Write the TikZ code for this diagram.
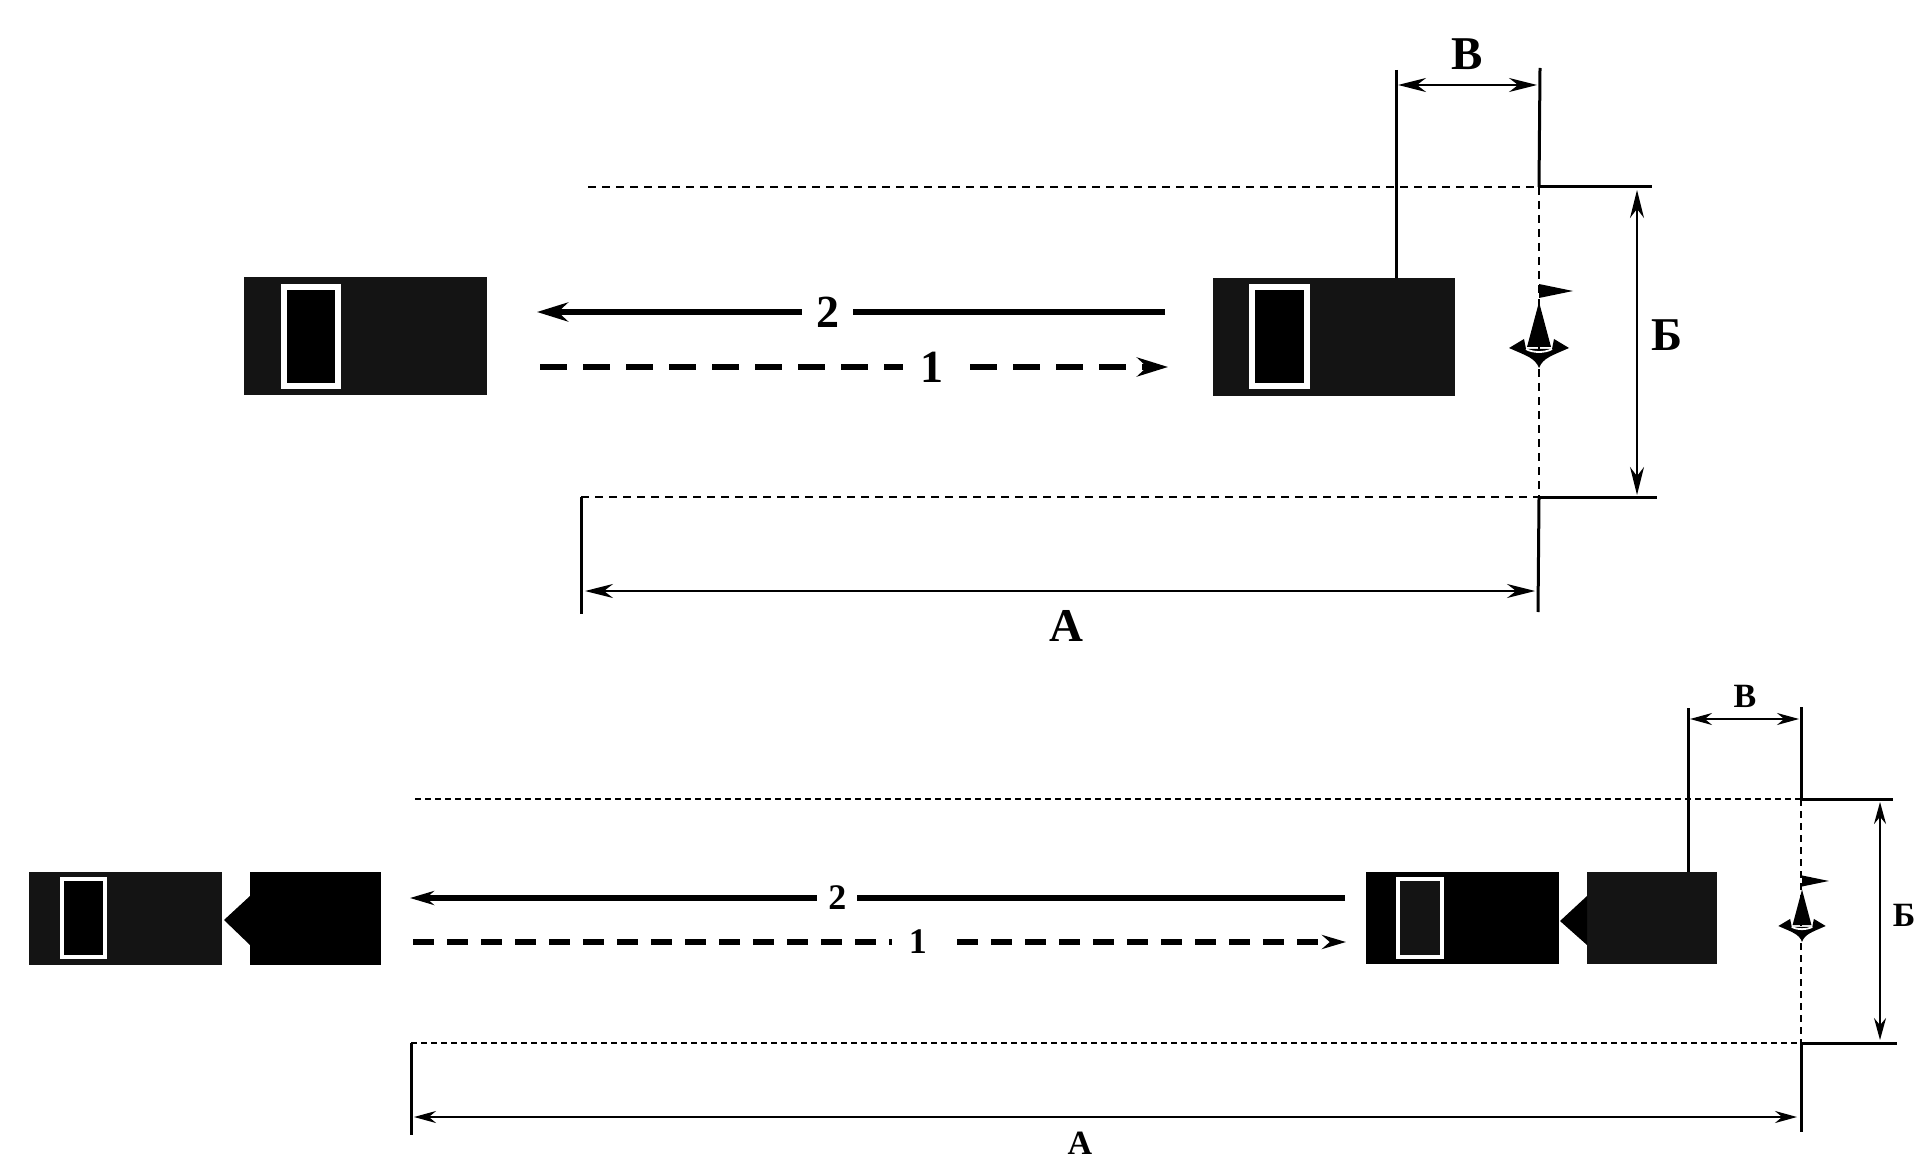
\documentclass[tikz,border=0pt]{standalone}
\usepackage{fontspec}
\setmainfont{Liberation Serif}
\usetikzlibrary{arrows.meta}

\tikzset{
  x=0.5pt, y=-0.5pt,
  body/.style={fill=black!92, inner sep=0pt, outer sep=0pt},
  pane/.style={draw=white, fill=black, inner sep=0pt, outer sep=0pt},
  bigtxt/.style={font=\fontsize{23.5}{24}\selectfont\bfseries, inner sep=0pt},
  smalltxt/.style={font=\fontsize{17}{18}\selectfont\bfseries, inner sep=0pt},
  gapbig/.style={fill=white, inner sep=0pt, font=\fontsize{23}{24}\selectfont\bfseries},
  gapsmall/.style={fill=white, inner sep=0pt, font=\fontsize{18}{18}\selectfont\bfseries},
  dim/.style={line width=1pt, {Stealth[length=14pt,width=7pt]}-{Stealth[length=14pt,width=7pt]}},
  dimlow/.style={line width=1pt, {Stealth[length=11pt,width=6pt]}-{Stealth[length=11pt,width=6pt]}},
  limit/.style={line width=1.5pt},
  bound/.style={line width=1.3pt, dash pattern=on 4pt off 3pt},
  boundlow/.style={line width=1.1pt, dash pattern=on 3pt off 2pt},
}

% signal post: flag, pointer and wings
\newcommand{\signalmark}[2]{
  \begin{scope}[shift={(#1)}, scale=#2]
    \fill (0,-64) -- (34,-57) -- (0,-50) -- cycle;
    \fill (-30,0) -- (-15,-9) -- (-13,1) -- (13,1) -- (15,-9) -- (30,0)
      .. controls (12,8) and (4,10) .. (0,20) .. controls (-4,10) and (-12,8) .. (-30,0) -- cycle;
    \fill (0,-46) -- (12,-1) -- (-12,-1) -- cycle;
    \draw[white, line width=0.9pt] (-13,1) .. controls (-6,5) and (6,5) .. (13,1);
  \end{scope}
}

\begin{document}
\begin{tikzpicture}
  \useasboundingbox (0,0) rectangle (1931,1160);

  % upper diagram
  \node[body, minimum width=121.5pt, minimum height=59pt] (carL) at (365.5,336) {};
  \node[pane, line width=3pt, minimum width=27pt, minimum height=49.5pt] (paneL) at (311,336.5) {};
  \node[body, minimum width=121pt, minimum height=59pt] (carR) at (1334,337) {};
  \node[pane, line width=3pt, minimum width=27.5pt, minimum height=49.5pt] (paneR) at (1279.5,336.5) {};

  \coordinate (topW) at (588,187);
  \coordinate (topE) at (1539,187);
  \coordinate (topX) at (1652,187);
  \coordinate (lowW) at (581,497);
  \coordinate (lowE) at (1539,497);
  \coordinate (lowX) at (1657,497);
  \coordinate (lowS) at (581,614);
  \coordinate (postN) at (1540,68);
  \coordinate (postS) at (1538,612);
  \coordinate (carN) at (1396,70);

  \draw[bound] (topW) -- (topE);
  \draw[bound] (lowW) -- (lowE);
  \draw[bound] (topE) -- (lowE);
  \draw[limit] (topE) -- (topX);
  \draw[limit] (lowE) -- (lowX);
  \draw[limit] (lowW) -- (lowS);
  \draw[limit] (postN) -- (topE);
  \draw[limit] (lowE) -- (postS);
  \draw[limit] (carN) -- (carN |- carR.north);

  \coordinate (vA) at (1398,85);
  \coordinate (vB) at (1537,85);
  \coordinate (bA) at (1637,190);
  \coordinate (bB) at (1637,495);
  \coordinate (aA) at (585,591);
  \coordinate (aB) at (1535,591);
  \draw[dim] (vA) -- (vB);
  \draw[dim] (bA) -- (bB);
  \draw[dim] (aA) -- (aB);
  \node[bigtxt] (vT) at (1467,54) {В};
  \node[bigtxt] (bT) at (1667,335) {Б};
  \node[bigtxt] (aT) at (1066,626) {А};

  \coordinate (goE) at (1165,312);
  \coordinate (goW) at (537,312);
  \coordinate (backW) at (540,367);
  \coordinate (backE) at (1168,367);
  \draw[line width=3.2pt, -{Stealth[length=15.5pt,width=9.5pt]}] (goE) -- node[gapbig, pos=.537, minimum width=25.5pt] (two) {2} (goW);
  \draw[line width=3.2pt, dash pattern=on 13.5pt off 8pt, -{Stealth[length=15.5pt,width=9.5pt]}] (backW) -- node[gapbig, pos=.624, minimum width=29pt] (one) {1} (backE);

  \signalmark{1539,348}{1}

  % lower diagram
  \node[body, minimum width=96.5pt, minimum height=46.5pt] (cabL) at (125.5,918.5) {};
  \node[pane, line width=2pt, minimum width=21.5pt, minimum height=39pt] (glassL) at (83.5,918) {};
  \node[body, fill=black, minimum width=65.5pt, minimum height=46.5pt] (bedL) at (315.5,918.5) {};
  \fill (224,920) -- (250,896) -- (250,945) -- cycle;

  \node[body, fill=black, minimum width=96.5pt, minimum height=46pt] (cabR) at (1462.5,918) {};
  \node[pane, fill=black!92, line width=2pt, minimum width=22pt, minimum height=39pt] (glassR) at (1420,918) {};
  \node[body, minimum width=65pt, minimum height=46pt] (bedR) at (1652,918) {};
  \fill (1560,921) -- (1587,896) -- (1587,945) -- cycle;

  \coordinate (upW) at (415,799);
  \coordinate (upE) at (1801,799);
  \coordinate (upX) at (1893,799);
  \coordinate (dnW) at (411,1043);
  \coordinate (dnE) at (1801,1043);
  \coordinate (dnX) at (1897,1043);
  \coordinate (dnS) at (411,1135);
  \coordinate (mastN) at (1801,707);
  \coordinate (mastS) at (1801,1132);
  \coordinate (bedN) at (1688,708);

  \draw[boundlow] (upW) -- (upE);
  \draw[boundlow] (dnW) -- (dnE);
  \draw[bound, dash pattern=on 3.5pt off 2.5pt] (upE) -- (dnE);
  \draw[limit] (upE) -- (upX);
  \draw[limit] (dnE) -- (dnX);
  \draw[limit] (dnW) -- (dnS);
  \draw[limit] (mastN) -- (upE);
  \draw[limit] (dnE) -- (mastS);
  \draw[limit] (bedN) -- (bedN |- bedR.north);

  \coordinate (wA) at (1690,719);
  \coordinate (wB) at (1799,719);
  \coordinate (cA) at (1880,802);
  \coordinate (cB) at (1880,1040);
  \coordinate (dA) at (414,1117);
  \coordinate (dB) at (1797,1117);
  \draw[dimlow] (wA) -- (wB);
  \draw[dimlow] (cA) -- (cB);
  \draw[dimlow] (dA) -- (dB);
  \node[smalltxt] (wT) at (1745,696) {В};
  \node[smalltxt] (cT) at (1904,915) {Б};
  \node[smalltxt] (dT) at (1080,1143) {А};

  \coordinate (runE) at (1345,898);
  \coordinate (runW) at (410,898);
  \coordinate (retW) at (413,942);
  \coordinate (retE) at (1346,942);
  \draw[line width=2.6pt, -{Stealth[length=12pt,width=7pt]}] (runE) -- node[gapsmall, pos=.543, minimum width=20pt] (twoL) {2} (runW);
  \draw[line width=2.6pt, dash pattern=on 10.5pt off 6.5pt, -{Stealth[length=12pt,width=7pt]}] (retW) -- node[gapsmall, pos=.541, minimum width=26pt] (oneL) {1} (retE);

  \signalmark{1802,926}{.79}
\end{tikzpicture}
\end{document}
